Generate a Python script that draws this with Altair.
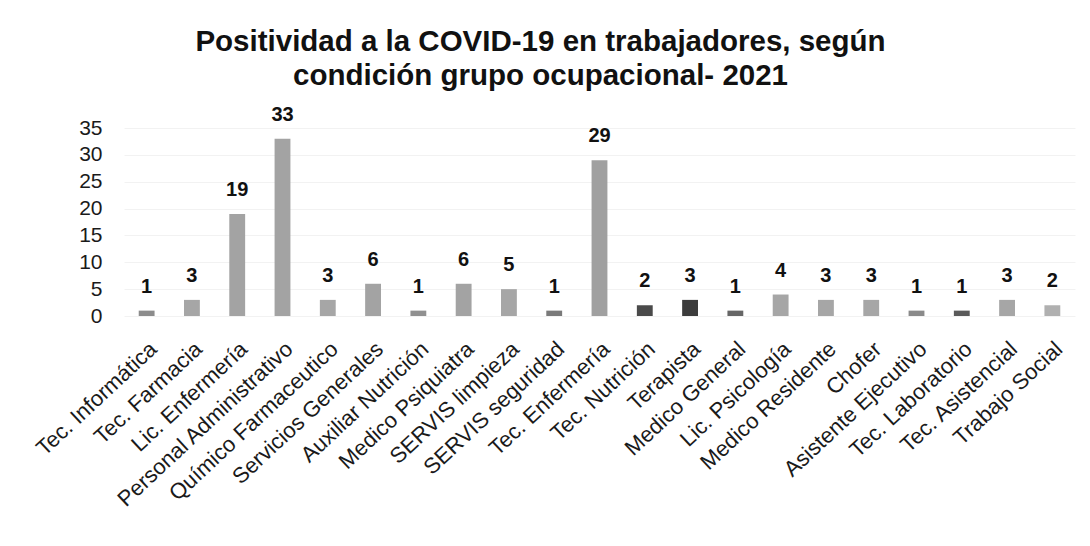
import altair as alt
import pandas as pd

categories = [
    "Tec. Informática", "Tec. Farmacia", "Lic. Enfermería", "Personal Administrativo",
    "Químico Farmaceutico", "Servicios Generales", "Auxiliar Nutrición", "Medico Psiquiatra",
    "SERVIS limpieza", "SERVIS seguridad", "Tec. Enfermería", "Tec. Nutrición", "Terapista",
    "Medico  General", "Lic. Psicología", "Medico Residente", "Chofer", "Asistente Ejecutivo",
    "Tec. Laboratorio", "Tec. Asistencial", "Trabajo Social",
]
values = [1, 3, 19, 33, 3, 6, 1, 6, 5, 1, 29, 2, 3, 1, 4, 3, 3, 1, 1, 3, 2]
y_ticks = [0, 5, 10, 15, 20, 25, 30, 35]

# bar shades (style), one per category, in order
shades = [
    "#8c8c8c", "#a6a6a6", "#a3a3a3", "#a3a3a3", "#a6a6a6", "#a3a3a3", "#909090",
    "#a3a3a3", "#a6a6a6", "#7a7a7a", "#a0a0a0", "#4a4a4a", "#3c3c3c", "#666666",
    "#a6a6a6", "#a6a6a6", "#a6a6a6", "#8a8a8a", "#5a5a5a", "#a6a6a6", "#b0b0b0",
]

df = pd.DataFrame({"cat": categories, "val": values})

x = alt.X("cat:N", sort=categories, title=None,
          scale=alt.Scale(paddingInner=0.65, paddingOuter=0.325),
          axis=alt.Axis(labelAngle=-43, labelFontSize=22, labelColor="#1a1a1a",
                        labelFont="Liberation Sans", ticks=False, domain=False,
                        labelPadding=22, labelLimit=400, grid=False))
y = alt.Y("val:Q", title=None,
          scale=alt.Scale(domain=[0, 35], nice=False),
          axis=alt.Axis(values=y_ticks, labelFontSize=21, labelOverlap=False,
                        labelFont="Liberation Sans", labelColor="#1a1a1a",
                        ticks=False, domain=False, labelPadding=22,
                        gridColor="#f2f2f2", gridWidth=1))

bars = alt.Chart(df).mark_bar().encode(
    x=x, y=y,
    color=alt.Color("cat:N", scale=alt.Scale(domain=categories, range=shades), legend=None),
)
labels = alt.Chart(df).mark_text(dy=-14, fontSize=20, fontWeight="bold",
                                 font="Liberation Sans", color="#111111",
                                 baseline="bottom").encode(
    x=x, y=y,
    text="val:Q",
)

chart = (bars + labels).properties(
    width=951, height=188,
    background="white",
    title=alt.TitleParams(
        ["Positividad a la COVID-19 en trabajadores, según", "condición grupo ocupacional- 2021"],
        fontSize=29.5, font="Liberation Sans", fontWeight="bold", color="#111111",
        anchor="middle", dx=-59, offset=13, lineHeight=34,
    ),
    autosize=alt.AutoSizeParams(type="none"),
    padding={"left": 116, "top": 120, "right": 7, "bottom": 218},
).configure_view(stroke=None)

chart.save("out.html", embed_options={"renderer": "svg", "actions": False})
